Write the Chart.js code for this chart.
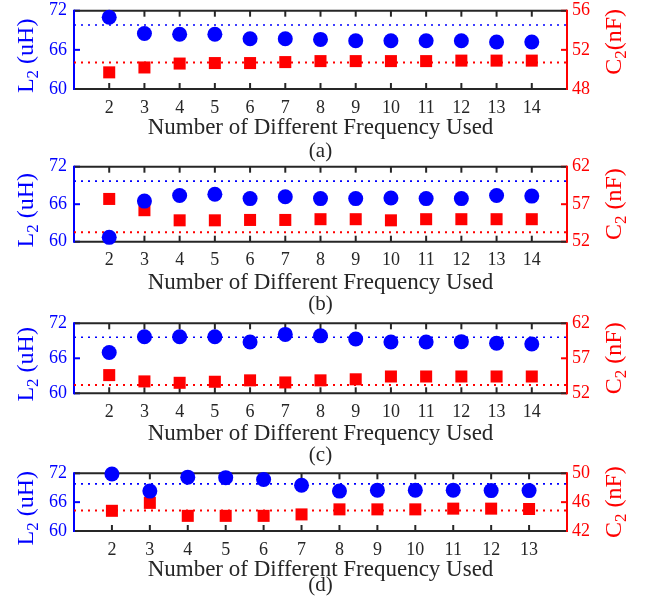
<!DOCTYPE html>
<html>
<head>
<meta charset="utf-8">
<script src="https://cdn.jsdelivr.net/npm/chart.js@4.4.1/dist/chart.umd.min.js"></script>
<style>
	body { margin: 0; background: #fff; }
	#wrap { position: relative; width: 649px; height: 605px; }
	.panel { position: absolute; left: 0; width: 649px; }
</style>
</head>
<body>
<div id="wrap"></div>
<script>
// x categories
const xCats = [2, 3, 4, 5, 6, 7, 8, 9, 10, 11, 12, 13, 14];
const xCatsD = [2, 3, 4, 5, 6, 7, 8, 9, 10, 11, 12, 13];

// L2 (uH) estimates, blue circles
const L2a = [71.0, 68.5, 68.4, 68.4, 67.7, 67.7, 67.6, 67.4, 67.4, 67.4, 67.4, 67.2, 67.2];
const L2b = [60.7, 66.5, 67.4, 67.6, 66.9, 67.2, 66.9, 66.9, 67.0, 66.9, 66.9, 67.4, 67.3];
const L2c = [67.0, 69.7, 69.7, 69.7, 68.8, 70.1, 69.85, 69.3, 68.8, 68.8, 68.85, 68.6, 68.45];
const L2d = [71.85, 68.3, 71.2, 71.1, 70.7, 69.5, 68.3, 68.5, 68.5, 68.5, 68.4, 68.4];

// C2 (nF) estimates, red squares
const C2a = [49.7, 50.2, 50.6, 50.65, 50.65, 50.75, 50.85, 50.85, 50.85, 50.85, 50.9, 50.9, 50.9];
const C2b = [57.7, 56.2, 54.85, 54.85, 54.9, 54.9, 55.0, 55.0, 54.85, 55.0, 55.0, 55.0, 55.0];
const C2c = [54.6, 53.7, 53.5, 53.65, 53.85, 53.55, 53.85, 54.0, 54.4, 54.4, 54.4, 54.4, 54.4];
const C2d = [44.8, 45.9, 44.1, 44.1, 44.1, 44.3, 45.0, 45.0, 45.0, 45.1, 45.1, 45.05];

// true values (dotted lines)
const L2ref = [69.8, 69.7, 69.6, 69.8];
const C2ref = [50.7, 53.25, 53.2, 44.85];

// tick labels
const lTicks = [60, 66, 72];
const cTicksA = [48, 52, 56];
const cTicksB = [52, 57, 62];
const cTicksC = [52, 57, 62];
const cTicksD = [42, 46, 50];

const panelLabels = ["(a)", "(b)", "(c)", "(d)"];
const xTitle = "Number of Different Frequency Used";

const BLUE = "#0000ff";
const RED = "#ff0000";
const DARK = "#262626";
const FONT = "'Liberation Serif', 'Times New Roman', serif";

const panels = [
	{ x: xCats, L: L2a, C: C2a, cTicks: cTicksA, cSep: "" },
	{ x: xCats, L: L2b, C: C2b, cTicks: cTicksB, cSep: " " },
	{ x: xCats, L: L2c, C: C2c, cTicks: cTicksC, cSep: " " },
	{ x: xCatsD, L: L2d, C: C2d, cTicks: cTicksD, cSep: " " }
];

// canvas placement of each panel
const boxes = [
	{ top: 0, h: 166, pad: 10.7, plotH: 78.3, ttl: 38.5, lab: 62.5, cShift: -8 },
	{ top: 156, h: 162, pad: 10.7, plotH: 75, ttl: 41, lab: 63, cShift: 0 },
	{ top: 313, h: 154, pad: 10.3, plotH: 70, ttl: 41, lab: 62, cShift: 0 },
	{ top: 463, h: 142, pad: 10.3, plotH: 57.7, ttl: 38.5, lab: 54.5, cShift: 0 }
];

function drawSubTitle(ctx, x, y, main, sub, rest, size) {
	// rotated text reading bottom to top, centred on y
	ctx.save();
	ctx.translate(x, y);
	ctx.rotate(-Math.PI / 2);
	const big = size + "px " + FONT;
	const small = Math.round(size * 0.7) + "px " + FONT;
	ctx.font = big;
	const w1 = ctx.measureText(main).width;
	const w3 = ctx.measureText(rest).width;
	ctx.font = small;
	const w2 = ctx.measureText(sub).width;
	let px = -(w1 + w2 + w3) / 2;
	ctx.textBaseline = "alphabetic";
	ctx.textAlign = "left";
	ctx.font = big;
	ctx.fillText(main, px, 0);
	px += w1;
	ctx.font = small;
	ctx.fillText(sub, px, size * 0.22);
	px += w2;
	ctx.font = big;
	ctx.fillText(rest, px, 0);
	ctx.restore();
}

function makePlugin(idx) {
	return {
		id: "frame" + idx,
		beforeDatasetsDraw(chart) {
			const { ctx, chartArea: a, scales } = chart;
			ctx.save();
			ctx.lineWidth = 2;
			const seg = (x1, y1, x2, y2, c) => {
				ctx.strokeStyle = c;
				ctx.beginPath();
				ctx.moveTo(x1, y1);
				ctx.lineTo(x2, y2);
				ctx.stroke();
			};
			scales.x.ticks.forEach(t => {
				const px = scales.x.getPixelForValue(t.value);
				seg(px, a.bottom, px, a.bottom - 6, DARK);
				seg(px, a.top, px, a.top + 6, DARK);
			});
			scales.y.ticks.forEach(t => {
				const py = scales.y.getPixelForValue(t.value);
				seg(a.left, py, a.left + 6, py, BLUE);
			});
			scales.y2.ticks.forEach(t => {
				const py = scales.y2.getPixelForValue(t.value);
				seg(a.right, py, a.right - 6, py, RED);
			});
			seg(a.left, a.top, a.right, a.top, DARK);
			seg(a.left, a.bottom, a.right, a.bottom, DARK);
			seg(a.left, a.top - 1, a.left, a.bottom + 1, BLUE);
			seg(a.right, a.top - 1, a.right, a.bottom + 1, RED);
			ctx.restore();
		},
		afterDraw(chart) {
			const { ctx, chartArea: a } = chart;
			const b = boxes[idx];
			const cx = (a.left + a.right) / 2;
			const cy = (a.top + a.bottom) / 2;
			ctx.save();
			ctx.fillStyle = DARK;
			ctx.textAlign = "center";
			ctx.textBaseline = "middle";
			ctx.font = "23px " + FONT;
			ctx.fillText(xTitle, cx, a.bottom + b.ttl);
			ctx.font = "21px " + FONT;
			ctx.fillText(panelLabels[idx], cx, a.bottom + b.lab);
			ctx.fillStyle = BLUE;
			drawSubTitle(ctx, 33, cy + 6, "L", "2", " (uH)", 24);
			ctx.fillStyle = RED;
			drawSubTitle(ctx, 621, cy + b.cShift, "C", "2", panels[idx].cSep + "(nF)", 24);
			ctx.restore();
		}
	};
}

function noPad(s) {
	s.paddingTop = 0;
	s.paddingBottom = 0;
	s.paddingLeft = 0;
	s.paddingRight = 0;
}

const wrap = document.getElementById("wrap");

panels.forEach((p, i) => {
	const b = boxes[i];
	const div = document.createElement("div");
	div.className = "panel";
	div.style.top = b.top + "px";
	div.style.height = b.h + "px";
	const canvas = document.createElement("canvas");
	canvas.width = 649;
	canvas.height = b.h;
	div.appendChild(canvas);
	wrap.appendChild(div);

	const xMin = p.x[0] - 1;
	const xMax = p.x[p.x.length - 1] + 1;
	const tickFont = { family: FONT, size: 18, lineHeight: 1 };

	new Chart(canvas.getContext("2d"), {
		type: "line",
		data: {
			datasets: [
				{
					label: "L2",
					data: p.x.map((v, k) => ({ x: v, y: p.L[k] })),
					yAxisID: "y",
					showLine: false,
					pointStyle: "circle",
					pointRadius: 7.5,
					pointBackgroundColor: BLUE,
					pointBorderWidth: 0,
					clip: false
				},
				{
					label: "C2",
					data: p.x.map((v, k) => ({ x: v, y: p.C[k] })),
					yAxisID: "y2",
					showLine: false,
					pointStyle: "rect",
					pointRadius: 8.5,
					pointBackgroundColor: RED,
					pointBorderWidth: 0,
					clip: false
				},
				{
					label: "L2 true",
					data: [{ x: xMin, y: L2ref[i] }, { x: xMax, y: L2ref[i] }],
					yAxisID: "y",
					borderColor: BLUE,
					borderWidth: 1.6,
					borderDash: [2, 5],
					pointRadius: 0
				},
				{
					label: "C2 true",
					data: [{ x: xMin, y: C2ref[i] }, { x: xMax, y: C2ref[i] }],
					yAxisID: "y2",
					borderColor: RED,
					borderWidth: 2,
					borderDash: [2, 5],
					pointRadius: 0
				}
			]
		},
		options: {
			responsive: false,
			animation: false,
			events: [],
			devicePixelRatio: 1,
			layout: { padding: { top: b.pad, left: 0, right: 0, bottom: 0 } },
			plugins: { legend: { display: false }, tooltip: { enabled: false } },
			scales: {
				x: {
					type: "linear",
					min: xMin,
					max: xMax,
					grid: { display: false, drawTicks: false },
					border: { display: false },
					ticks: { color: DARK, font: tickFont, padding: 10, maxRotation: 0 },
					afterBuildTicks: s => { s.ticks = p.x.map(v => ({ value: v })); },
					afterFit: s => { s.height = b.h - b.pad - b.plotH; noPad(s); }
				},
				y: {
					position: "left",
					min: lTicks[0],
					max: lTicks[lTicks.length - 1],
					grid: { display: false, drawTicks: false },
					border: { display: false },
					ticks: { color: BLUE, font: tickFont, padding: 7 },
					afterBuildTicks: s => { s.ticks = lTicks.map(v => ({ value: v })); },
					afterFit: s => { s.width = 74; noPad(s); }
				},
				y2: {
					position: "right",
					min: p.cTicks[0],
					max: p.cTicks[p.cTicks.length - 1],
					grid: { display: false, drawTicks: false },
					border: { display: false },
					ticks: { color: RED, font: tickFont, padding: 5 },
					afterBuildTicks: s => { s.ticks = p.cTicks.map(v => ({ value: v })); },
					afterFit: s => { s.width = 82; noPad(s); }
				}
			}
		},
		plugins: [makePlugin(i)]
	});
});
</script>
</body>
</html>
